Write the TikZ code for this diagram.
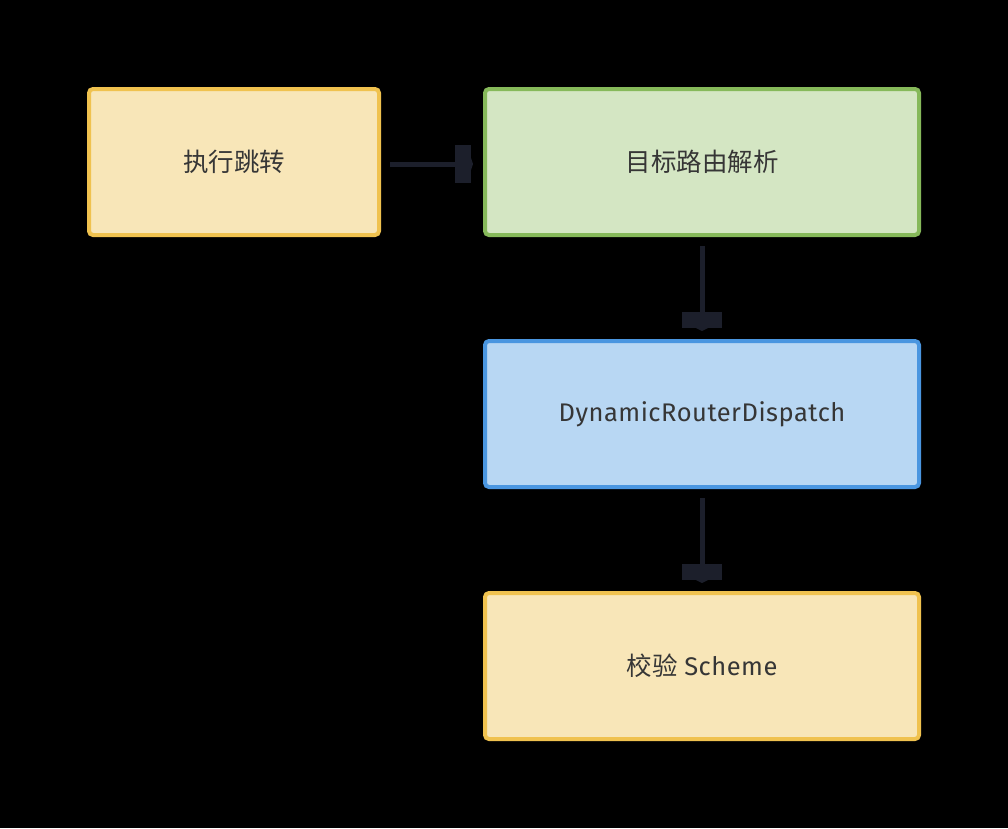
\documentclass[tikz,border=0pt]{standalone}
\usepackage{fontspec}
\setmainfont{Fira Sans}
\newfontfamily\cjk{Noto Sans CJK SC}
\definecolor{yfill}{HTML}{F8E6B8}
\definecolor{ydraw}{HTML}{F0C24F}
\definecolor{gfill}{HTML}{D4E6C3}
\definecolor{gdraw}{HTML}{86B95A}
\definecolor{bfill}{HTML}{B8D7F3}
\definecolor{bdraw}{HTML}{4A96E0}
\definecolor{txt}{HTML}{363636}
\definecolor{arr}{HTML}{1C1F2B}
\tikzset{
  box/.style={rectangle, rounded corners=4pt, line width=4pt, minimum height=146pt, inner sep=0pt, font=\fontsize{25.5}{30}\selectfont, text=txt},
  ybox/.style={box, fill=yfill, draw=ydraw},
  gbox/.style={box, fill=gfill, draw=gdraw},
  bbox/.style={box, fill=bfill, draw=bdraw},
  conn/.style={draw=arr, line width=5pt},
}
\begin{document}
\begin{tikzpicture}[x=1pt,y=-1pt]
\useasboundingbox[fill=black] (0,0) rectangle (1008,828);
\node[ybox, minimum width=290pt] (a) at (234,162) {\cjk 执行跳转};
\node[gbox, minimum width=434pt] (b) at (702,162) {\cjk 目标路由解析};
\node[bbox, minimum width=434pt] (c) at (702,414) {\addfontfeatures{LetterSpace=2}DynamicRouterDispatch};
\node[ybox, minimum width=434pt] (d) at (702,666) {{\cjk 校验} \addfontfeatures{LetterSpace=2}Scheme};
% arrow a -> b
\coordinate (a1) at ([xshift=9pt,yshift=-2pt]a.east);
\coordinate (a2) at ([xshift=-10pt,yshift=-2pt]b.west);
\draw[conn] (a1) -- ([xshift=-18pt]a2);
\fill[arr] ([xshift=-18pt,yshift=-19pt]a2) rectangle ([xshift=-2pt,yshift=19pt]a2);
\fill[arr] ([xshift=-2pt,yshift=-6pt]a2) -- (a2) -- ([xshift=-2pt,yshift=6pt]a2) -- cycle;
% arrow b -> c
\coordinate (b1) at ([yshift=-9pt]b.south);
\coordinate (b2) at ([yshift=8pt]c.north);
\draw[conn] (b1) -- ([yshift=18pt]b2);
\fill[arr] ([xshift=-20pt,yshift=19pt]b2) rectangle ([xshift=20pt,yshift=3pt]b2);
\fill[arr] ([xshift=-6pt,yshift=3pt]b2) -- (b2) -- ([xshift=6pt,yshift=3pt]b2) -- cycle;
% arrow c -> d
\coordinate (c1) at ([yshift=-9pt]c.south);
\coordinate (c2) at ([yshift=8pt]d.north);
\draw[conn] (c1) -- ([yshift=18pt]c2);
\fill[arr] ([xshift=-20pt,yshift=19pt]c2) rectangle ([xshift=20pt,yshift=3pt]c2);
\fill[arr] ([xshift=-6pt,yshift=3pt]c2) -- (c2) -- ([xshift=6pt,yshift=3pt]c2) -- cycle;
\end{tikzpicture}
\end{document}
